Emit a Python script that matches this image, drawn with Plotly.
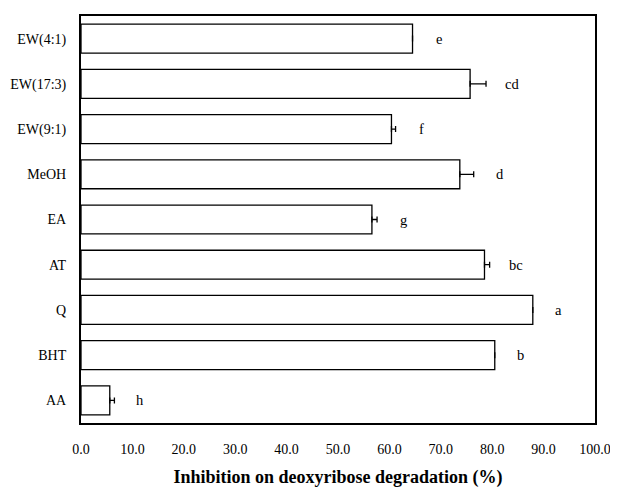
import plotly.graph_objects as go

categories = ["EW(4:1)", "EW(17:3)", "EW(9:1)", "MeOH", "EA", "AT", "Q", "BHT", "AA"]
values = [64.5, 75.7, 60.4, 73.7, 56.6, 78.5, 87.9, 80.5, 5.6]
errors = [0.0, 3.1, 0.8, 2.7, 1.0, 1.0, 0.0, 0.0, 0.9]
letters = ["e", "cd", "f", "d", "g", "bc", "a", "b", "h"]
x_ticks = [0, 10, 20, 30, 40, 50, 60, 70, 80, 90, 100]
x_tick_labels = ["0.0", "10.0", "20.0", "30.0", "40.0", "50.0", "60.0", "70.0", "80.0", "90.0", "100.0"]

font_family = "Liberation Serif, Times New Roman, serif"

fig = go.Figure()
fig.add_trace(go.Bar(
    x=values, y=categories, orientation="h",
    marker=dict(color="white", line=dict(color="black", width=1.3)),
    width=0.64,
    error_x=dict(type="data", array=errors, symmetric=False, arrayminus=[0]*len(errors),
                 color="black", thickness=1.3, width=3, visible=True),
    showlegend=False,
))

for c, v, e, l in zip(categories, values, errors, letters):
    fig.add_annotation(x=v + e, y=c, text=l, showarrow=False, xshift=26,
                       xanchor="center", yanchor="middle",
                       font=dict(family=font_family, size=14.5, color="black"))

# page body has an 8px default margin, so the figure is shrunk by 8px and offsets reduced
fig.update_layout(
    width=610, height=480,
    margin=dict(l=73, r=23, t=8, b=65, autoexpand=False),
    paper_bgcolor="white", plot_bgcolor="white",
    font=dict(family=font_family, color="black"),
)
fig.update_xaxes(
    range=[0, 100], tickvals=x_ticks, ticktext=x_tick_labels, automargin=False,
    tickfont=dict(size=14, family=font_family), ticks="", showgrid=False, zeroline=False,
    showline=True, linecolor="black", linewidth=2, mirror=True, ticklabelstandoff=12,
    title=dict(text="<b>Inhibition on deoxyribose degradation (%)</b>",
               font=dict(size=18, family=font_family), standoff=32),
)
fig.update_yaxes(
    categoryorder="array", categoryarray=categories, autorange="reversed", automargin=False,
    tickfont=dict(size=14, family=font_family), ticks="", ticklen=0, showgrid=False,
    showline=True, linecolor="black", linewidth=2, mirror=True, ticklabelstandoff=10,
)

fig.write_html("out.html")
